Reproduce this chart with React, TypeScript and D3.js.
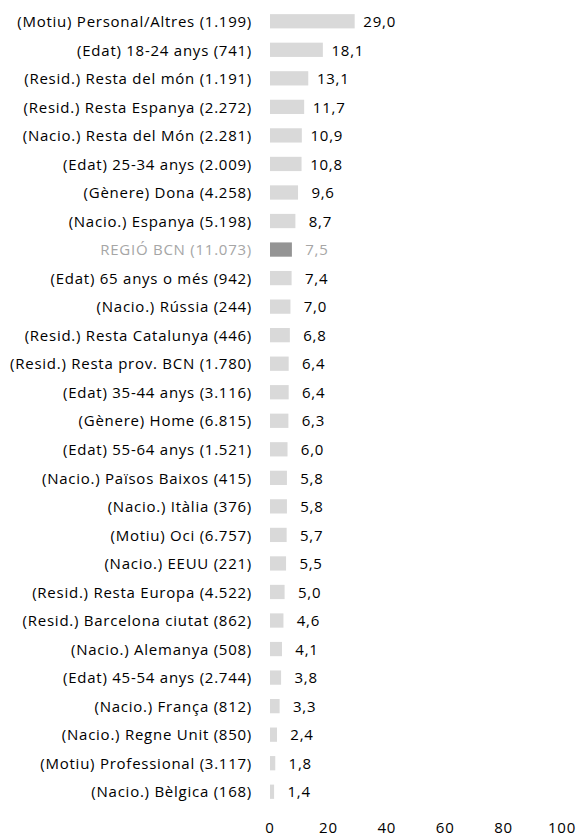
import React from 'react';
import * as d3 from 'd3';

const categories = [
  '(Motiu) Personal/Altres (1.199)',
  '(Edat) 18-24 anys (741)',
  '(Resid.) Resta del món (1.191)',
  '(Resid.) Resta Espanya (2.272)',
  '(Nacio.) Resta del Món (2.281)',
  '(Edat) 25-34 anys (2.009)',
  '(Gènere) Dona (4.258)',
  '(Nacio.) Espanya (5.198)',
  'REGIÓ BCN (11.073)',
  '(Edat) 65 anys o més (942)',
  '(Nacio.) Rússia (244)',
  '(Resid.) Resta Catalunya (446)',
  '(Resid.) Resta prov. BCN (1.780)',
  '(Edat) 35-44 anys (3.116)',
  '(Gènere) Home (6.815)',
  '(Edat) 55-64 anys (1.521)',
  '(Nacio.) Països Baixos (415)',
  '(Nacio.) Itàlia (376)',
  '(Motiu) Oci (6.757)',
  '(Nacio.) EEUU (221)',
  '(Resid.) Resta Europa (4.522)',
  '(Resid.) Barcelona ciutat (862)',
  '(Nacio.) Alemanya (508)',
  '(Edat) 45-54 anys (2.744)',
  '(Nacio.) França (812)',
  '(Nacio.) Regne Unit (850)',
  '(Motiu) Professional (3.117)',
  '(Nacio.) Bèlgica (168)',
];

const values = [
  29.0, 18.1, 13.1, 11.7, 10.9, 10.8, 9.6, 8.7, 7.5, 7.4, 7.0, 6.8, 6.4, 6.4,
  6.3, 6.0, 5.8, 5.8, 5.7, 5.5, 5.0, 4.6, 4.1, 3.8, 3.3, 2.4, 1.8, 1.4,
];

const highlight = 'REGIÓ BCN (11.073)';
const xTicks = [0, 20, 40, 60, 80, 100];

const width = 576;
const height = 838;
const font = '"Open Sans", sans-serif';
const fontSize = 15;
const spacing = 0.75;

export default function App() {
  const x = d3.scaleLinear().domain([0, 100]).range([270, 562]);
  const y = d3
    .scaleBand<string>()
    .domain(categories)
    .range([7, 806])
    .paddingInner(0.5)
    .paddingOuter(0.25);
  const fmt = (v: number) => v.toFixed(1).replace('.', ',');

  return (
    <svg
      width={width}
      height={height}
      style={{ position: 'absolute', left: 0, top: 0, background: '#fff' }}
    >
      {categories.map((c, i) => {
        const hl = c === highlight;
        const yc = y(c)! + y.bandwidth() / 2;
        return (
          <g key={c}>
            <text
              x={252}
              y={yc}
              dy="0.38em"
              textAnchor="end"
              fontFamily={font}
              fontSize={fontSize}
              letterSpacing={spacing}
              fill={hl ? '#a6a6a6' : '#000'}
            >
              {c}
            </text>
            <rect
              x={x(0)}
              y={y(c)}
              width={x(values[i]) - x(0)}
              height={y.bandwidth()}
              fill={hl ? '#949494' : '#d9d9d9'}
            />
            <text
              x={x(values[i]) + 25}
              y={yc}
              dy="0.38em"
              textAnchor="middle"
              fontFamily={font}
              fontSize={fontSize}
              letterSpacing={spacing}
              fill={hl ? '#a6a6a6' : '#000'}
            >
              {fmt(values[i])}
            </text>
          </g>
        );
      })}
      {xTicks.map((t) => (
        <text
          key={t}
          x={x(t)}
          y={828}
          dy="0.36em"
          textAnchor="middle"
          fontFamily={font}
          fontSize={fontSize}
          letterSpacing={spacing}
          fill="#000"
        >
          {t}
        </text>
      ))}
    </svg>
  );
}
